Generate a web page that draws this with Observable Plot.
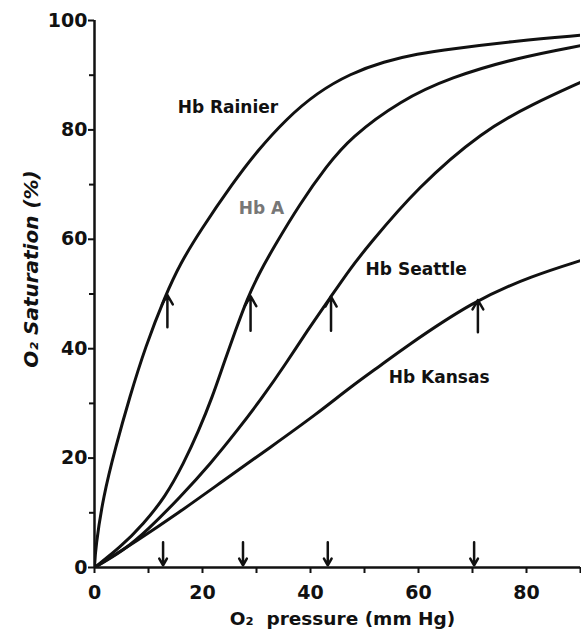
<!DOCTYPE html>
<html>
<head>
<meta charset="utf-8">
<script src="https://cdn.jsdelivr.net/npm/d3@7"></script>
<script src="https://cdn.jsdelivr.net/npm/@observablehq/plot@0.6"></script>
<style>
  body { margin: 0; background: #fff; }
</style>
</head>
<body>
<div id="chart"></div>
<script>
// O2 pressure (mm Hg) and O2 saturation (%)
const rainierP = [0, 0.2, 1.6, 3.9, 6.5, 9.4, 13.1, 15.9, 19.6, 25.7, 30.1, 35.5, 41.2, 47.4, 53.6, 59.8, 65.9, 78.3, 90];
const rainierS = [0, 3.7, 12.9, 22, 31.1, 40.3, 49.7, 55.6, 61.6, 70.4, 76.1, 82.0, 86.8, 90.3, 92.5, 93.9, 94.8, 96.3, 97.3];

const hbAP = [0, 4.8, 9.1, 13.1, 16.5, 19.3, 21.8, 23.9, 26.1, 28.3, 30.5, 33.1, 38.1, 43, 47.4, 56.7, 65.9, 78.3, 90];
const hbAS = [0, 3.7, 8, 12.9, 19, 25, 31.1, 37.2, 43.3, 49.2, 53.8, 58.4, 66.6, 73.4, 78.6, 85.4, 89.6, 93.2, 95.4];

const seattleP = [0, 5.4, 9.8, 15.9, 21.5, 26.4, 31.1, 35.4, 39.4, 43.7, 47.4, 50.5, 59.8, 72, 81.3, 90];
const seattleS = [0, 3.1, 6.8, 12.9, 19, 25, 31.1, 37.2, 43.3, 49.4, 54.7, 58.6, 69.5, 79.9, 84.8, 88.7];

const kansasP = [0, 7.9, 15.3, 23.9, 32.6, 41.2, 47.4, 53.5, 56.7, 70.2, 81.3, 90];
const kansasS = [0, 4.9, 9.8, 15.9, 22, 28.1, 33, 37.3, 39.7, 48.8, 53.4, 56.1];

const seriesNames = ["Hb Rainier", "Hb A", "Hb Seattle", "Hb Kansas"];
const seriesP = [rainierP, hbAP, seattleP, kansasP];
const seriesS = [rainierS, hbAS, seattleS, kansasS];

// P50 arrows (up arrows to each curve, down arrows to the pressure axis)
const arrowP = [13.5, 28.9, 43.8, 71];
const upFrom = [43.9, 43.3, 43.3, 43];
const upTo = [49.8, 49.6, 49.5, 48.9];
const downP = [12.7, 27.5, 43.2, 70.3];
const downFrom = [4.6, 4.6, 4.6, 4.6];
const downTo = [0.4, 0.4, 0.4, 0.4];

// curve labels
const labelText = ["Hb Rainier", "Hb A", "Hb Seattle", "Hb Kansas"];
const labelP = [15.4, 26.7, 50.2, 54.5];
const labelS = [83, 64.7, 53.4, 33.8];
const labelColor = ["#111", "#777", "#111", "#111"];

// axes
const xTicks = [0, 20, 40, 60, 80];
const xMinor = [10, 30, 50, 70, 90];
const yTicks = [0, 20, 40, 60, 80, 100];
const yMinor = [10, 30, 50, 70, 90];
const xLabel = "O\u2082  pressure (mm Hg)";
const yLabel = "O\u2082 Saturation (%)";

const curveData = seriesNames.flatMap((name, k) =>
  seriesP[k].map((p, i) => ({name, p, s: seriesS[k][i]})));
const upArrows = arrowP.map((p, i) => ({p, from: upFrom[i], to: upTo[i]}));
const downArrows = downP.map((p, i) => ({p, from: downFrom[i], to: downTo[i]}));
const labels = labelText.map((t, i) => ({t, p: labelP[i], s: labelS[i], c: labelColor[i]}));

const font = "'DejaVu Sans', 'Liberation Sans', Arial, sans-serif";

const chart = Plot.plot({
  width: 581,
  height: 630,
  marginTop: 20,
  marginBottom: 63,
  marginLeft: 94,
  marginRight: 1,
  x: {domain: [0, 90]},
  y: {domain: [0, 100]},
  style: {fontFamily: font, color: "#111", background: "#fff"},
  marks: [
    Plot.axisY(yMinor, {tickSize: 5, strokeWidth: 2, fill: "none", label: null}),
    Plot.axisY(yTicks, {tickSize: 6, strokeWidth: 2, tickPadding: 1, fontSize: 19, fontWeight: "bold", label: null}),
    Plot.axisX(xMinor, {tickSize: 6, strokeWidth: 2, fill: "none", label: null}),
    Plot.axisX(xTicks, {tickSize: 6, strokeWidth: 2, tickPadding: 12, fontSize: 19, fontWeight: "bold", label: null}),
    Plot.ruleX([0], {strokeWidth: 2.5}),
    Plot.ruleY([0], {strokeWidth: 2.5}),
    Plot.line(curveData, {x: "p", y: "s", z: "name", curve: "basis", stroke: "#111", strokeWidth: 3, clip: true}),
    Plot.arrow(upArrows, {x1: "p", x2: "p", y1: "from", y2: "to", stroke: "#111", strokeWidth: 2.5, headLength: 9}),
    Plot.arrow(downArrows, {x1: "p", x2: "p", y1: "from", y2: "to", stroke: "#111", strokeWidth: 2.5, headLength: 9}),
    Plot.text(labels, {x: "p", y: "s", text: "t", fill: "c", textAnchor: "start", lineAnchor: "bottom", fontSize: 17, fontWeight: "bold"}),
    Plot.text([yLabel], {frameAnchor: "left", text: d => d, rotate: -90, textAnchor: "middle", lineAnchor: "middle", dx: -63, dy: -25, fontSize: 20, fontWeight: "bold", fontStyle: "italic"}),
    Plot.text([xLabel], {frameAnchor: "bottom", text: d => d, textAnchor: "middle", lineAnchor: "middle", dx: 5, dy: 52, fontSize: 18.5, fontWeight: "bold"})
  ]
});
document.getElementById("chart").appendChild(chart);
</script>
</body>
</html>
